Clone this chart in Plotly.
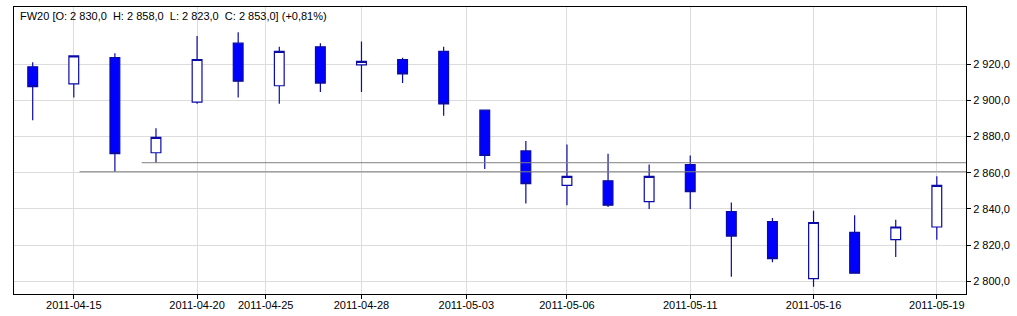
import plotly.graph_objects as go

dates = ["2011-04-14", "2011-04-15", "2011-04-18", "2011-04-19", "2011-04-20", "2011-04-21",
         "2011-04-26", "2011-04-27", "2011-04-28", "2011-04-29", "2011-05-02", "2011-05-04",
         "2011-05-05", "2011-05-06", "2011-05-09", "2011-05-10", "2011-05-11", "2011-05-12",
         "2011-05-13", "2011-05-16", "2011-05-17", "2011-05-18", "2011-05-19"]
opens  = [2918.5, 2909, 2923.5, 2871, 2899, 2931.5, 2908, 2929.5, 2919.5, 2922.5, 2927, 2894.5,
          2872, 2853, 2855.5, 2844, 2864.5, 2838.5, 2833, 2801.5, 2827, 2823, 2830]
highs  = [2921, 2924.5, 2926, 2884.5, 2935.5, 2937.5, 2929.5, 2931.5, 2932.5, 2923.5, 2929.5, 2894.5,
          2877.5, 2875.5, 2870.5, 2864.5, 2869.5, 2843.5, 2835, 2839, 2836.5, 2834, 2858]
lows   = [2889, 2901.5, 2860.5, 2865.5, 2898, 2901.5, 2898, 2904.5, 2904.5, 2909.5, 2891.5, 2862,
          2843, 2842, 2841, 2840, 2840, 2802.5, 2810.5, 2797, 2804.5, 2813.5, 2823]
closes = [2907.5, 2924.5, 2870.5, 2879.5, 2922.5, 2910.5, 2927, 2909.5, 2921.5, 2914.5, 2898, 2869.5,
          2854, 2858, 2842, 2858, 2849.5, 2825, 2812.5, 2832.5, 2804.5, 2830, 2853]

# axis tick labels (holidays fall between trading sessions)
tick_labels = ["2011-04-15", "2011-04-20", "2011-04-25", "2011-04-28", "2011-05-03",
               "2011-05-06", "2011-05-11", "2011-05-16", "2011-05-19"]
tick_pos = [1, 4, 5.67, 8, 10.55, 13, 16, 19, 22]
y_ticks = [2800, 2820, 2840, 2860, 2880, 2900, 2920]

# support lines: level and start position
support_levels = [2860.5, 2865.5]
support_starts = [1.14, 2.65]

title = "FW20 [O: 2 830,0  H: 2 858,0  L: 2 823,0  C: 2 853,0] (+0,81%)"

x = list(range(len(dates)))
x_range = [-0.455, 22.71]

fig = go.Figure()
fig.add_trace(go.Candlestick(
    x=x, open=opens, high=highs, low=lows, close=closes,
    increasing=dict(fillcolor="#ffffff", line=dict(color="#0a0aa8", width=1.2)),
    decreasing=dict(fillcolor="#0000ff", line=dict(color="#0a0aa8", width=1.2)),
    whiskerwidth=0, showlegend=False, hoverinfo="skip", text=dates,
))

for lvl, st in zip(support_levels, support_starts):
    fig.add_shape(type="line", xref="x", yref="y", x0=st, x1=x_range[1], y0=lvl, y1=lvl,
                  line=dict(color="#7f7f7f", width=1), layer="above")

fig.add_annotation(text=title, xref="paper", yref="paper", x=0.004, y=0.995,
                   xanchor="left", yanchor="top", showarrow=False,
                   font=dict(family="Liberation Sans, Arial", size=11, color="#000000"))

fig.update_layout(
    width=1017, height=316,
    margin=dict(l=14, r=51, t=7, b=22, autoexpand=False),
    paper_bgcolor="#ffffff", plot_bgcolor="#ffffff",
    separators=", ",
    boxgap=0.66,
    font=dict(family="Liberation Sans, Arial", size=11, color="#000000"),
    xaxis=dict(
        range=x_range, tickmode="array", tickvals=tick_pos, ticktext=tick_labels,
        showgrid=True, gridcolor="#dcdcdc", gridwidth=1,
        showline=True, linecolor="#000000", linewidth=1, mirror=True,
        ticks="outside", ticklen=4, tickcolor="#000000", ticklabelstandoff=-3,
        rangeslider=dict(visible=False), zeroline=False, automargin=False,
        tickfont=dict(size=11),
    ),
    yaxis=dict(
        side="right", range=[2793.0, 2951.5], tickmode="array", tickvals=y_ticks,
        tickformat=",.1f", showgrid=True, gridcolor="#dcdcdc", gridwidth=1,
        showline=True, linecolor="#000000", linewidth=1, mirror=True,
        ticks="outside", ticklen=4, tickcolor="#000000", zeroline=False, automargin=False,
        tickfont=dict(size=11),
    ),
)

fig.write_html("out.html")
